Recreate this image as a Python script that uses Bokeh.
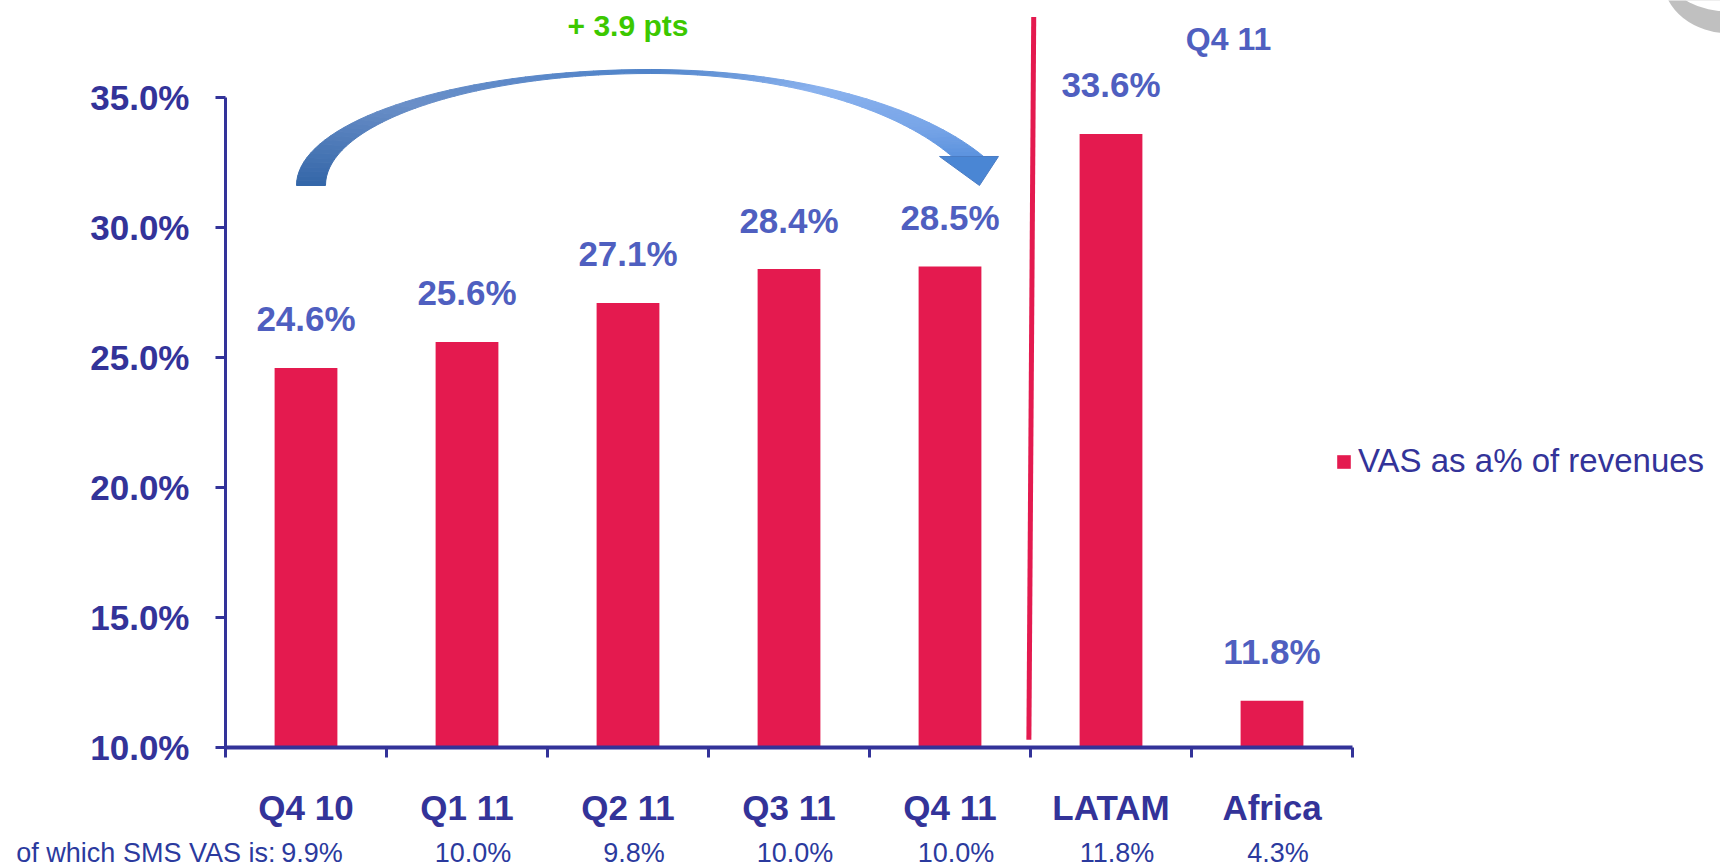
import numpy as np
from bokeh.plotting import figure
from bokeh.layouts import column
from bokeh.models import (FixedTicker, Range1d, Legend, LegendItem,
                          ColumnDataSource, PrintfTickFormatter)
from bokeh.core.properties import value
from bokeh.embed import file_html
from bokeh.resources import INLINE

# ---------------- data ----------------
categories = ["Q4 10", "Q1 11", "Q2 11", "Q3 11", "Q4 11", "LATAM", "Africa"]
vas_pct = [24.6, 25.6, 27.1, 28.4, 28.5, 33.6, 11.8]
sms_pct = [9.9, 10.0, 9.8, 10.0, 10.0, 11.8, 4.3]
y_ticks = [10, 15, 20, 25, 30, 35]
series_name = "VAS as a% of revenues"
sms_prefix = "of which SMS VAS is:"
growth_label = "+ 3.9 pts"
period_label = "Q4 11"

# ---------------- style ----------------
FONT = "Liberation Sans"
NAVY = "#333399"
LABEL_BLUE = "#4F5FC0"
RED = "#E41A4F"
GREEN = "#3CC800"
SMS_BLUE = "#2B3A9E"

W = 1720
H1, H2 = 832, 34
FRAME_L = 225          # px from left edge to y axis
FRAME_BOTTOM = 747     # px from top to x axis
PX_X = 161.0           # px per category
PX_Y = 26.0            # px per percentage point
x0 = -0.5
x1 = x0 + (W - FRAME_L) / PX_X
y_top = 10 + FRAME_BOTTOM / PX_Y

x_idx = list(range(len(categories)))

p = figure(width=W, height=H1, output_backend="svg", toolbar_location=None, title=None,
           x_range=Range1d(x0, x1), y_range=Range1d(10, y_top),
           min_border_left=FRAME_L, min_border_right=0, min_border_top=0,
           min_border_bottom=H1 - FRAME_BOTTOM)
p.grid.visible = False
p.outline_line_color = None
p.background_fill_color = "white"
p.border_fill_color = "white"

# ---------------- axes ----------------
xa = p.xaxis[0]
xa.ticker = FixedTicker(ticks=x_idx, minor_ticks=[i - 0.5 for i in range(len(categories) + 1)])
xa.bounds = (-0.5, len(categories) - 0.5)
xa.major_label_overrides = {i: c for i, c in enumerate(categories)}
xa.axis_line_color = NAVY
xa.axis_line_width = 4
xa.major_tick_out = 0
xa.major_tick_in = 0
xa.minor_tick_out = 10
xa.minor_tick_in = 0
xa.minor_tick_line_color = NAVY
xa.minor_tick_line_width = 3
xa.major_label_text_font = FONT
xa.major_label_text_font_style = "bold"
xa.major_label_text_font_size = "35px"
xa.major_label_text_color = NAVY
xa.major_label_standoff = 30

ya = p.yaxis[0]
ya.ticker = FixedTicker(ticks=y_ticks, minor_ticks=[])
ya.formatter = PrintfTickFormatter(format="%.1f%%")
ya.bounds = (10, 35)
ya.axis_line_color = NAVY
ya.axis_line_width = 3
ya.major_tick_out = 10
ya.major_tick_in = 0
ya.major_tick_line_color = NAVY
ya.major_tick_line_width = 3
ya.minor_tick_out = 0
ya.minor_tick_in = 0
ya.major_label_text_font = FONT
ya.major_label_text_font_style = "bold"
ya.major_label_text_font_size = "35px"
ya.major_label_text_color = NAVY
ya.major_label_standoff = 26

# ---------------- bars ----------------
src = ColumnDataSource(dict(x=x_idx, top=vas_pct,
                            label=[f"{v:.1f}%" for v in vas_pct]))
bars = p.vbar(x="x", top="top", bottom=10, width=0.39, source=src,
              fill_color=RED, line_color=None)
p.text(x="x", y="top", text="label", source=src, text_font=value(FONT),
       text_font_style="bold", text_font_size="35px", text_color=LABEL_BLUE,
       text_align="center", text_baseline="middle", y_offset=-49)

# ---------------- separator line ----------------
sep = 4.5
p.line(x=[sep + 0.02, sep - 0.01], y=[38.1, 10.3], line_color=RED, line_width=5)

# ---------------- curved arrow ----------------
n = 40
cx = 2.14
t_l = np.linspace(0.0, np.pi / 2, n)
lox = cx - 2.199 * np.cos(t_l); loy = 31.615 + 4.462 * np.sin(t_l)
lix = cx - 2.019 * np.cos(t_l); liy = 31.615 + 4.308 * np.sin(t_l)
t_ro = np.linspace(np.pi / 2, 0.478, n)
t_ri = np.linspace(np.pi / 2, 0.4906, n)
rox = cx + 2.329 * np.cos(t_ro); roy = 29.885 + 6.192 * np.sin(t_ro)
rix = cx + 2.124 * np.cos(t_ri); riy = 29.885 + 6.038 * np.sin(t_ri)
ox = np.concatenate([lox, rox[1:]]); oy = np.concatenate([loy, roy[1:]])
ix = np.concatenate([lix, rix[1:]]); iy = np.concatenate([liy, riy[1:]])

stops_s = [0.0, 0.25, 0.5, 0.72, 0.9, 1.0]
stops_c = [(0x33, 0x66, 0xA8), (0x6A, 0x8F, 0xC8), (0x4F, 0x83, 0xC9),
           (0x8A, 0xB2, 0xEE), (0x78, 0xA5, 0xE8), (0x5C, 0x93, 0xDE)]
m = len(ox) - 1
xs, ys, cols = [], [], []
for i in range(m):
    s = (i + 0.5) / m
    rgb = [int(round(np.interp(s, stops_s, [c[k] for c in stops_c]))) for k in range(3)]
    cols.append("#%02x%02x%02x" % tuple(rgb))
    xs.append([ox[i], ox[i + 1], ix[i + 1], ix[i]])
    ys.append([oy[i], oy[i + 1], iy[i + 1], iy[i]])
p.patches(xs=xs, ys=ys, fill_color=cols, line_color=cols, line_width=1)
p.patch(x=[3.935, 4.301, 4.183], y=[32.731, 32.731, 31.615],
        fill_color="#4A86D4", line_color="#4A7CC4", line_width=1)

# ---------------- annotations ----------------
p.text(x=[2.0], y=[37.77], text=[growth_label], text_font=value(FONT),
       text_font_style="bold", text_font_size="30px", text_color=GREEN,
       text_align="center", text_baseline="middle")
p.text(x=[5.73], y=[37.25], text=[period_label], text_font=value(FONT),
       text_font_style="bold", text_font_size="32px", text_color=LABEL_BLUE,
       text_align="center", text_baseline="middle")

# partial grey logo ring in the top-right corner
p.ellipse(x=[8.848], y=[39.5], width=[134], height=[106], width_units="screen",
          height_units="screen", fill_color="#C0C0C0", line_color=None)
p.ellipse(x=[8.848], y=[39.5], width=[116], height=[62], width_units="screen",
          height_units="screen", fill_color="white", line_color=None)

# legend
legend = Legend(items=[LegendItem(label=series_name, renderers=[bars])],
                location=(1110, 267), padding=0, margin=0, spacing=0,
                glyph_width=17, glyph_height=17, label_standoff=6,
                label_text_font=FONT, label_text_font_size="33px",
                label_text_color=NAVY, border_line_alpha=0,
                background_fill_alpha=0)
p.add_layout(legend)

# ---------------- SMS row (second strip with the same x scale) ----------------
p2 = figure(width=W, height=H2, output_backend="svg", toolbar_location=None, title=None,
            x_range=Range1d(x0 - FRAME_L / PX_X, x1), y_range=Range1d(0, H2),
            x_axis_type=None, y_axis_type=None, min_border=0)
p2.frame_align = False
p2.grid.visible = False
p2.outline_line_color = None
p2.border_fill_color = "white"
sms_src = ColumnDataSource(dict(x=x_idx, y=[14] * len(x_idx),
                                text=[f"{v:.1f}%" for v in sms_pct]))
p2.text(x="x", y="y", text="text", source=sms_src, x_offset=6,
        text_font=value(FONT), text_font_size="27px", text_color=SMS_BLUE,
        text_align="center", text_baseline="middle")
p2.text(x=[-0.19], y=[14], text=[sms_prefix], text_font=value(FONT),
        text_font_size="27px", text_color=SMS_BLUE, text_align="right",
        text_baseline="middle")

layout = column(p, p2, spacing=0)
open("out.html", "w").write(file_html(layout, INLINE))
